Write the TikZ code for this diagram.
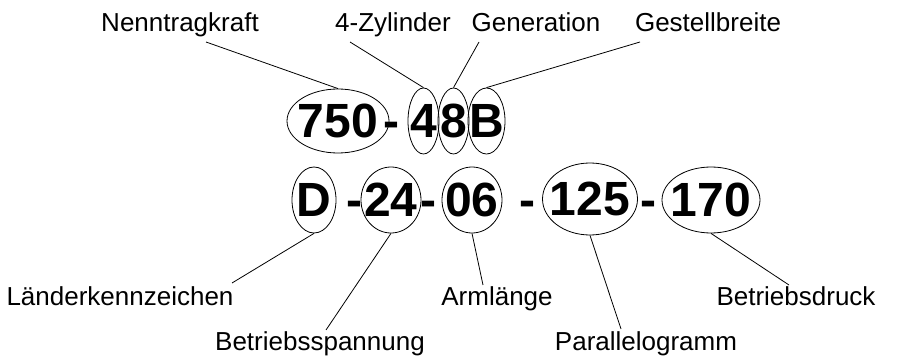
\documentclass[tikz,border=0pt]{standalone}
\usepackage{fontspec}
\setmainfont{Liberation Sans}
\usetikzlibrary{shapes.geometric, positioning}

\begin{document}
\begin{tikzpicture}[x=1pt,y=-1pt,line width=0.8pt,
        part/.style={ellipse,draw,inner sep=0pt,minimum height=66pt,font=\fontsize{48}{48}\selectfont\bfseries},
        hyphen node/.style={anchor=base,inner sep=0pt,font=\fontsize{48}{48}\selectfont\bfseries},
        name node/.style={anchor=base,inner sep=0pt,font=\fontsize{26}{26}\selectfont}]

        \useasboundingbox (0,0) rectangle (898,358);

        % top row: 750-48B
        \node[part, minimum width=102pt, minimum height=64pt] (p750) at (338,121) {\makebox[0pt]{750}};
        \node[hyphen node] (h1) at (391,138) {-};
        \node[part, minimum width=31pt] (p4) at (423.5,121) {\makebox[0pt]{4}};
        \node[part, minimum width=31pt] (p8) at (453.5,121) {\makebox[0pt]{8}};
        \node[part, minimum width=37pt] (pB) at (486.5,121) {\makebox[0pt]{B}};

        % bottom row: D-24-06-125-170
        \node[part, minimum width=44pt] (pD) at (314,200) {\makebox[0pt]{D}};
        \node[hyphen node] (h2) at (354,217) {-};
        \node[part, minimum width=60pt] (p24) at (391,200) {\makebox[0pt]{24}};
        \node[hyphen node] (h3) at (428,217) {-};
        \node[part, minimum width=60pt] (p06) at (472,200) {\makebox[0pt]{06}};
        \node[hyphen node] (h4) at (527,217) {-};
        \node[part, minimum width=95pt, minimum height=72pt] (p125) at (590,199) {\makebox[0pt]{125}};
        \node[hyphen node] (h5) at (648,217) {-};
        \node[part, minimum width=98pt] (p170) at (711,200) {\makebox[0pt]{170}};

        % labels
        \node[name node] (nenn) at (180,32) {Nenntragkraft};
        \node[name node] (zyl) at (393,32) {4-Zylinder};
        \node[name node] (gen) at (536,32) {Generation};
        \node[name node] (gest) at (708,32) {Gestellbreite};
        \node[name node] (land) at (120,306) {Länderkennzeichen};
        \node[name node] (spann) at (320,351) {Betriebsspannung};
        \node[name node] (arm) at (497,306) {Armlänge};
        \node[name node] (para) at (646,351) {Parallelogramm};
        \node[name node] (druck) at (796,306) {Betriebsdruck};

        % free ends of the leader lines
        \coordinate (nenn end) at (206,42);
        \coordinate (zyl end) at (350,42);
        \coordinate (gen end) at (479,42);
        \coordinate (gest end) at (640,42);
        \coordinate (land end) at (232,283);
        \coordinate (spann end) at (326,330);
        \coordinate (arm end) at (483,285);
        \coordinate (para end) at (621,329);
        \coordinate (druck end) at (789,285);

        \path[line width=0.8pt]
            (nenn end) edge (p750.north)
            (zyl end) edge (p4.north)
            (gen end) edge (p8.north)
            (gest end) edge (pB.north)
            (pD.south) edge (land end)
            (p24.south) edge (spann end)
            (p06.south) edge (arm end)
            (p125.south) edge (para end)
            (p170.south) edge (druck end);
\end{tikzpicture}
\end{document}
